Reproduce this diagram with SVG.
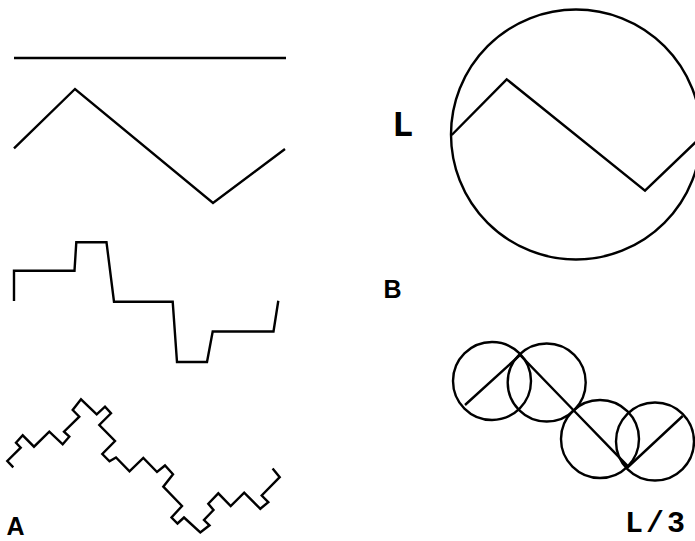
<svg xmlns="http://www.w3.org/2000/svg" width="695" height="541" viewBox="0 0 695 541">
<style>
.ln{fill:none;stroke:#000;stroke-width:2.4;stroke-linejoin:miter;stroke-linecap:butt}
.lbl{font-family:"Liberation Sans",Arial,sans-serif;font-weight:bold;font-size:25px;fill:#000}
.mono{font-family:"Liberation Mono","Courier New",monospace;font-weight:bold;fill:#000}
</style>
<rect width="695" height="541" fill="#fff"/>
<g id="panelA">
<g id="level0"><line class="ln" x1="14" y1="58" x2="286" y2="58"/></g>
<g id="level1"><polyline class="ln" points="14,148.3 75,89 213,203 285,149"/></g>
<g id="level2"><polyline class="ln" points="14,301 14,270.7 74.5,270.7 76.3,242.3 106.5,242.3 114,301.7 172.7,301.7 177,362 207,362 212.7,331.5 273.5,331.5 278.3,300.7"/></g>
<g id="level3"><polyline class="ln" points="13.3,467.3 7.3,461 20.7,447.7 16,442.7 22.7,435.3 34,446.7 49.3,431.7 62.7,444.3 69.3,436.7 64,431.7 79.3,416.7 72.7,410 81,399.3 96.7,414.3 105,406.7 111,413.3 99.3,425 115,441 102.3,454 109.5,461.3 116,457.5 129.5,471.3 143.3,458 157,472 165,465.5 173,474.2 163.3,486.7 182,506 171.5,517.5 177.5,523.5 184,517.5 200.3,532.5 209.5,525.3 204,520 213.5,510 208.3,503.7 218.3,493.3 230.7,506 244.2,492.7 260.3,508.8 268.3,502.2 261.7,495.5 279.7,477.2 272.6,468.5"/></g>
<text class="lbl" x="6.5" y="535">A</text>
</g>
<g id="panelB">
<g id="bigCircle"><circle class="ln" cx="576" cy="134.5" r="125"/>
<polyline class="ln" points="451.7,135 506.7,79.3 645,190.7 701,137"/></g>
<g id="smallCircles">
<circle class="ln" cx="492" cy="381" r="39"/>
<circle class="ln" cx="546.7" cy="382.5" r="39"/>
<circle class="ln" cx="600" cy="439" r="39"/>
<circle class="ln" cx="655" cy="441.5" r="39"/>
<polyline class="ln" points="465,405 520,355 573.3,410 628.3,466.7 682.7,416"/>
</g>
<text class="mono" x="392" y="135.5" font-size="36">L</text>
<text class="mono" x="625" y="532" font-size="30" textLength="60" lengthAdjust="spacing">L/3</text>
<text class="lbl" x="383.5" y="298">B</text>
</g>
</svg>
